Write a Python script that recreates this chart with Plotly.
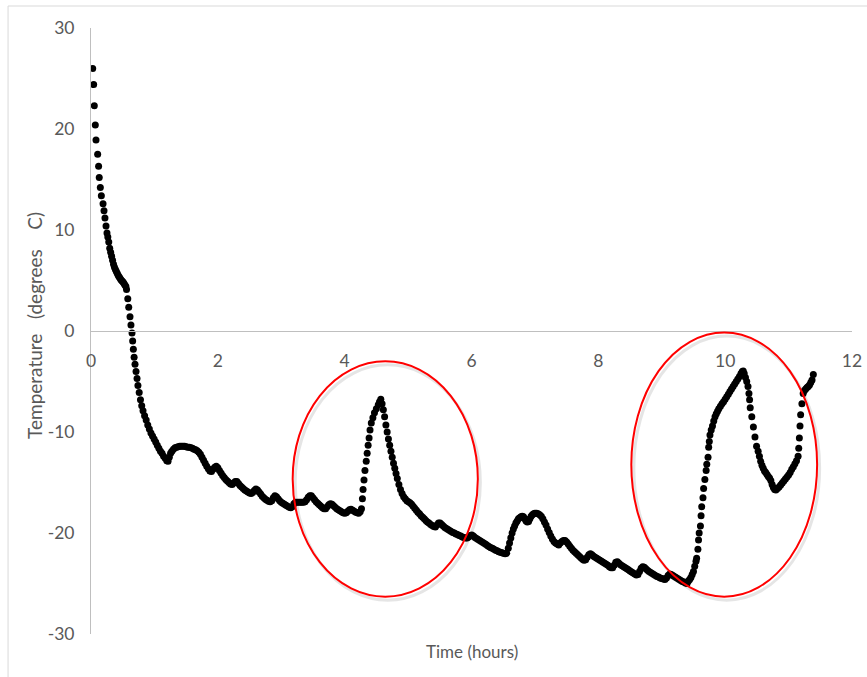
import plotly.graph_objects as go

# ---- data: (time in hours, temperature in degrees C) ----
seg_initial_drop = [
    (0.027, 26.0), (0.042, 24.4), (0.052, 22.3), (0.068, 20.4), (0.079, 18.9), (0.105, 17.5),
    (0.12, 16.3), (0.13, 15.2), (0.147, 14.2), (0.163, 13.4), (0.19, 12.6), (0.205, 11.9),
    (0.22, 11.2), (0.237, 10.4), (0.252, 9.7), (0.265, 9.3), (0.28, 8.8), (0.295, 8.2),
    (0.31, 7.8), (0.325, 7.4), (0.34, 7.0), (0.355, 6.6), (0.37, 6.3), (0.385, 6.1),
    (0.40, 5.9), (0.415, 5.7), (0.43, 5.5), (0.445, 5.35), (0.46, 5.2), (0.475, 5.05),
    (0.49, 4.95), (0.505, 4.85), (0.52, 4.7), (0.535, 4.55), (0.55, 4.4), (0.56, 4.1),
    (0.58, 3.2), (0.595, 2.35), (0.615, 1.4), (0.63, 0.6), (0.647, -0.2), (0.657, -1.0),
    (0.668, -1.8), (0.68, -2.6), (0.694, -3.3), (0.71, -4.0), (0.726, -4.7), (0.74, -5.4),
    (0.76, -6.1), (0.78, -6.8), (0.80, -7.4), (0.82, -7.9), (0.845, -8.4), (0.87, -8.8),
    (0.895, -9.3), (0.92, -9.7), (0.945, -10.1), (0.97, -10.4), (0.995, -10.7), (1.02, -11.0),
    (1.045, -11.3), (1.07, -11.6), (1.095, -11.9), (1.12, -12.1), (1.145, -12.4), (1.17, -12.6),
    (1.195, -12.85), (1.215, -12.9),
]

seg_plateau = [
    (1.235, -12.5), (1.255, -12.1), (1.275, -11.9), (1.30, -11.7), (1.325, -11.55), (1.35, -11.5),
    (1.375, -11.45), (1.40, -11.4), (1.425, -11.4), (1.45, -11.4), (1.475, -11.4), (1.50, -11.45),
    (1.525, -11.5), (1.55, -11.5), (1.575, -11.55), (1.60, -11.6), (1.625, -11.7), (1.65, -11.75),
    (1.675, -11.85), (1.70, -12.0), (1.725, -12.2), (1.75, -12.5), (1.775, -12.8), (1.80, -13.1),
    (1.825, -13.4), (1.85, -13.65), (1.875, -13.85), (1.90, -13.9), (1.925, -13.7), (1.95, -13.5),
    (1.975, -13.4), (2.00, -13.55), (2.025, -13.8), (2.05, -14.05), (2.075, -14.3), (2.10, -14.5),
    (2.125, -14.7), (2.15, -14.85), (2.175, -15.0), (2.20, -15.15), (2.225, -15.2), (2.25, -15.05),
    (2.275, -14.9), (2.30, -14.9), (2.325, -15.1), (2.35, -15.3), (2.375, -15.45), (2.40, -15.6),
    (2.425, -15.75), (2.45, -15.85), (2.475, -15.95), (2.50, -16.05), (2.525, -16.1), (2.55, -16.0),
    (2.575, -15.8), (2.60, -15.65), (2.625, -15.75), (2.65, -15.95), (2.675, -16.15), (2.70, -16.35),
    (2.725, -16.5), (2.75, -16.65), (2.775, -16.75), (2.80, -16.85), (2.825, -16.9), (2.85, -16.8),
    (2.875, -16.5), (2.90, -16.3), (2.925, -16.4), (2.95, -16.6), (2.975, -16.8), (3.00, -16.95),
    (3.025, -17.05), (3.05, -17.15), (3.075, -17.25), (3.10, -17.35), (3.125, -17.45), (3.15, -17.5),
    (3.175, -17.4), (3.20, -17.1), (3.225, -16.95), (3.25, -16.95), (3.275, -16.95), (3.30, -16.95),
    (3.325, -16.95), (3.35, -16.95), (3.375, -16.9), (3.40, -16.7), (3.425, -16.45), (3.45, -16.3),
    (3.475, -16.3), (3.50, -16.5), (3.525, -16.7), (3.55, -16.9), (3.575, -17.05), (3.60, -17.2),
    (3.625, -17.35), (3.65, -17.5), (3.675, -17.6), (3.70, -17.6), (3.725, -17.4), (3.75, -17.2),
    (3.775, -17.1), (3.80, -17.15), (3.825, -17.3), (3.85, -17.45), (3.875, -17.6), (3.90, -17.7),
    (3.925, -17.8), (3.95, -17.9), (3.975, -18.0), (4.00, -18.05), (4.025, -18.0), (4.05, -17.85),
    (4.075, -17.7), (4.10, -17.65), (4.125, -17.75), (4.15, -17.85), (4.175, -17.95), (4.20, -18.0),
    (4.22, -18.05), (4.245, -17.9),
]

seg_first_peak = [
    (4.265, -17.6), (4.28, -16.6), (4.29, -15.7), (4.305, -14.75), (4.32, -13.8), (4.34, -12.9),
    (4.355, -12.1), (4.37, -11.3), (4.385, -10.6), (4.40, -9.8), (4.42, -9.1), (4.445, -8.6),
    (4.47, -8.1), (4.50, -7.7), (4.53, -7.3), (4.55, -7.0), (4.57, -6.75), (4.59, -7.2),
    (4.61, -7.8), (4.63, -8.5), (4.65, -9.3), (4.67, -10.0), (4.69, -10.7), (4.71, -11.3),
    (4.73, -11.9), (4.75, -12.5), (4.77, -13.1), (4.79, -13.6), (4.81, -14.1), (4.83, -14.6),
    (4.855, -15.2), (4.88, -15.7), (4.905, -16.1), (4.93, -16.4), (4.955, -16.6), (4.98, -16.8),
    (5.005, -16.9), (5.03, -17.0), (5.055, -17.15), (5.08, -17.35), (5.105, -17.55), (5.13, -17.75),
    (5.155, -17.95), (5.18, -18.1), (5.205, -18.3), (5.23, -18.45), (5.255, -18.6), (5.28, -18.75),
    (5.305, -18.9), (5.33, -19.0), (5.355, -19.15), (5.38, -19.25), (5.405, -19.35), (5.43, -19.4),
    (5.455, -19.2), (5.48, -19.0), (5.505, -19.0), (5.53, -19.15), (5.555, -19.3), (5.58, -19.45),
    (5.605, -19.55), (5.63, -19.65), (5.655, -19.75), (5.68, -19.85), (5.705, -19.95), (5.73, -20.0),
    (5.755, -20.1), (5.78, -20.15), (5.805, -20.25), (5.83, -20.3), (5.855, -20.4), (5.88, -20.45),
    (5.905, -20.5), (5.93, -20.5), (5.955, -20.4), (5.98, -20.25), (6.005, -20.2), (6.03, -20.3),
    (6.055, -20.45), (6.08, -20.55), (6.105, -20.65), (6.13, -20.75), (6.155, -20.85), (6.18, -20.95),
    (6.205, -21.05), (6.23, -21.15), (6.255, -21.25), (6.28, -21.35), (6.305, -21.45), (6.33, -21.5),
    (6.355, -21.6), (6.38, -21.7), (6.405, -21.75), (6.43, -21.85), (6.455, -21.9), (6.48, -21.95),
    (6.505, -22.0), (6.53, -22.05), (6.555, -22.0),
]

seg_middle = [
    (6.58, -21.5), (6.60, -21.0), (6.62, -20.5), (6.64, -20.0), (6.66, -19.6), (6.68, -19.3),
    (6.70, -19.0), (6.72, -18.8), (6.74, -18.6), (6.76, -18.5), (6.78, -18.4), (6.80, -18.35),
    (6.82, -18.4), (6.84, -18.6), (6.86, -18.8), (6.88, -18.9), (6.90, -18.85), (6.92, -18.6),
    (6.94, -18.35), (6.96, -18.2), (6.98, -18.1), (7.00, -18.05), (7.025, -18.05), (7.05, -18.1),
    (7.075, -18.2), (7.10, -18.35), (7.125, -18.6), (7.15, -18.9), (7.175, -19.2), (7.20, -19.6),
    (7.225, -19.95), (7.25, -20.3), (7.275, -20.6), (7.30, -20.85), (7.325, -21.0), (7.35, -21.1),
    (7.375, -21.2), (7.40, -21.0), (7.425, -20.85), (7.45, -20.75), (7.475, -20.75), (7.50, -20.9),
    (7.525, -21.1), (7.55, -21.3), (7.575, -21.5), (7.60, -21.7), (7.625, -21.85), (7.65, -22.0),
    (7.675, -22.15), (7.70, -22.3), (7.725, -22.45), (7.75, -22.6), (7.775, -22.7), (7.80, -22.65),
    (7.825, -22.4), (7.85, -22.15), (7.875, -22.05), (7.90, -22.15), (7.925, -22.3), (7.95, -22.4),
    (7.975, -22.5), (8.00, -22.6), (8.025, -22.7), (8.05, -22.8), (8.075, -22.9), (8.10, -23.0),
    (8.125, -23.1), (8.15, -23.2), (8.175, -23.35), (8.20, -23.45), (8.225, -23.45), (8.25, -23.2),
    (8.275, -22.9), (8.30, -22.85), (8.325, -23.0), (8.35, -23.15), (8.375, -23.25), (8.40, -23.35),
    (8.425, -23.45), (8.45, -23.55), (8.475, -23.65), (8.50, -23.75), (8.525, -23.85), (8.55, -23.95),
    (8.575, -24.05), (8.60, -24.15), (8.625, -24.1), (8.65, -23.8), (8.675, -23.5), (8.70, -23.35),
    (8.725, -23.4), (8.75, -23.55), (8.775, -23.7), (8.80, -23.8), (8.825, -23.9), (8.85, -24.0),
    (8.875, -24.1), (8.90, -24.2), (8.925, -24.3), (8.95, -24.35), (8.975, -24.45), (9.00, -24.5),
    (9.025, -24.55), (9.05, -24.6), (9.075, -24.45), (9.10, -24.2), (9.125, -24.05), (9.15, -24.1),
    (9.175, -24.2), (9.20, -24.3), (9.225, -24.4), (9.25, -24.5), (9.275, -24.6), (9.30, -24.7),
    (9.325, -24.8), (9.35, -24.85), (9.375, -24.95), (9.40, -25.0),
]

seg_second_peak = [
    (9.42, -24.75), (9.44, -24.6), (9.46, -24.4), (9.48, -24.1), (9.50, -23.8), (9.52, -23.3),
    (9.54, -22.8), (9.55, -22.5), (9.57, -21.6), (9.58, -20.7), (9.59, -20.0), (9.61, -19.3),
    (9.62, -18.3), (9.63, -17.4), (9.65, -16.5), (9.66, -15.6), (9.68, -14.7), (9.70, -13.8),
    (9.71, -13.2), (9.73, -12.5), (9.74, -11.5), (9.75, -10.95), (9.76, -10.3), (9.78, -9.8),
    (9.80, -9.4), (9.82, -8.9), (9.84, -8.5), (9.86, -8.2), (9.88, -7.95), (9.90, -7.7),
    (9.925, -7.45), (9.95, -7.2), (9.975, -7.0), (10.00, -6.75), (10.025, -6.5), (10.05, -6.25),
    (10.075, -6.0), (10.10, -5.75), (10.125, -5.5), (10.15, -5.25), (10.175, -5.0), (10.20, -4.75),
    (10.225, -4.5), (10.25, -4.2), (10.27, -4.0), (10.285, -3.95), (10.30, -4.2), (10.32, -4.6),
    (10.34, -5.0), (10.36, -5.5), (10.375, -6.2), (10.385, -6.8), (10.395, -7.6), (10.42, -8.5),
    (10.445, -9.5), (10.47, -10.5), (10.495, -11.4), (10.52, -11.9), (10.54, -12.4), (10.56, -12.9),
    (10.58, -13.3), (10.60, -13.6), (10.62, -13.85), (10.64, -14.0), (10.66, -14.2), (10.68, -14.4),
    (10.70, -14.55), (10.72, -14.8), (10.74, -15.2), (10.76, -15.5), (10.78, -15.7), (10.80, -15.75),
    (10.825, -15.6), (10.85, -15.45), (10.875, -15.25), (10.90, -15.05), (10.925, -14.85), (10.95, -14.65),
    (10.975, -14.45), (11.00, -14.25), (11.025, -14.0), (11.05, -13.7), (11.075, -13.45), (11.10, -13.15),
    (11.125, -12.85), (11.15, -12.4), (11.16, -11.6), (11.17, -10.6), (11.18, -9.4), (11.19, -8.3),
    (11.21, -7.2), (11.23, -6.2), (11.25, -5.9), (11.27, -5.75), (11.29, -5.6), (11.31, -5.5),
    (11.33, -5.35), (11.35, -5.1), (11.37, -4.85), (11.39, -4.3),
]

x_ticks = [0, 2, 4, 6, 8, 10, 12]
y_ticks = [-30, -20, -10, 0, 10, 20, 30]
x_title = "Time (hours)"
y_title = "Temperature\u00a0\u00a0\u00a0(degrees\u00a0\u00a0\u00a0\u00a0C)"

# highlighted regions (time range, temperature range)
highlight_1 = dict(t0=3.18, t1=6.10, T0=-26.3, T1=-3.0)
highlight_2 = dict(t0=8.52, t1=11.45, T0=-26.3, T1=-0.15)

points = seg_initial_drop + seg_plateau + seg_first_peak + seg_middle + seg_second_peak
time_h = [p[0] for p in points]
temp_c = [p[1] for p in points]

GRAY_TXT = "#595959"
AXIS_GRAY = "#bfbfbf"
FONT = "Lato, 'Open Sans', sans-serif"

fig = go.Figure()
fig.add_trace(go.Scatter(
    x=time_h, y=temp_c, mode="markers",
    marker=dict(color="black", size=7, line=dict(width=0)),
    hoverinfo="x+y",
))

shapes = []
for h in (highlight_1, highlight_2):
    shapes.append(dict(type="circle", xref="x", yref="y",
                       x0=h["t0"] + 0.04, x1=h["t1"] + 0.04, y0=h["T0"] - 0.35, y1=h["T1"] - 0.35,
                       line=dict(color="rgba(0,0,0,0.10)", width=3), layer="above"))
    shapes.append(dict(type="circle", xref="x", yref="y",
                       x0=h["t0"], x1=h["t1"], y0=h["T0"], y1=h["T1"],
                       line=dict(color="#ff0000", width=2), layer="above"))
# outer chart frame
shapes.append(dict(type="rect", xref="paper", yref="paper",
                   x0=-0.109, x1=1.3, y0=-0.4, y1=1.0363,
                   line=dict(color="#d9d9d9", width=1), layer="below"))

fig.update_layout(
    width=867, height=677,
    margin=dict(l=91, r=15, t=28, b=43, autoexpand=False),
    paper_bgcolor="white", plot_bgcolor="white",
    showlegend=False,
    font=dict(family=FONT, color=GRAY_TXT, size=17),
    shapes=shapes,
    xaxis=dict(range=[0, 12], tickvals=x_ticks, ticktext=[str(v) for v in x_ticks],
               showline=True, linecolor=AXIS_GRAY, linewidth=1,
               showgrid=False, zeroline=False, ticks="", automargin=False,
               anchor="free", position=0.5, ticklabelstandoff=14,
               tickfont=dict(family=FONT, size=17.5, color=GRAY_TXT)),
    yaxis=dict(range=[-30, 30], tickvals=y_ticks, ticktext=[str(v) for v in y_ticks],
               showline=True, linecolor=AXIS_GRAY, linewidth=1, automargin=False,
               showgrid=False, zeroline=False, ticks="", ticklabelstandoff=12,
               tickfont=dict(family=FONT, size=17.5, color=GRAY_TXT)),
    annotations=[
        dict(text=x_title, xref="paper", yref="paper", x=0.5, y=-0.0297,
             xanchor="center", yanchor="middle", showarrow=False,
             font=dict(family=FONT, size=17, color=GRAY_TXT)),
        dict(text=y_title, xref="paper", yref="paper", x=-0.0736, y=0.51,
             xanchor="center", yanchor="middle", showarrow=False, textangle=-90,
             font=dict(family=FONT, size=19, color=GRAY_TXT)),
    ],
)

fig.write_html(
    "out.html",
    config={"displayModeBar": False},
    post_script=["document.body.style.margin='0px';document.body.style.overflow='hidden';"],
)
